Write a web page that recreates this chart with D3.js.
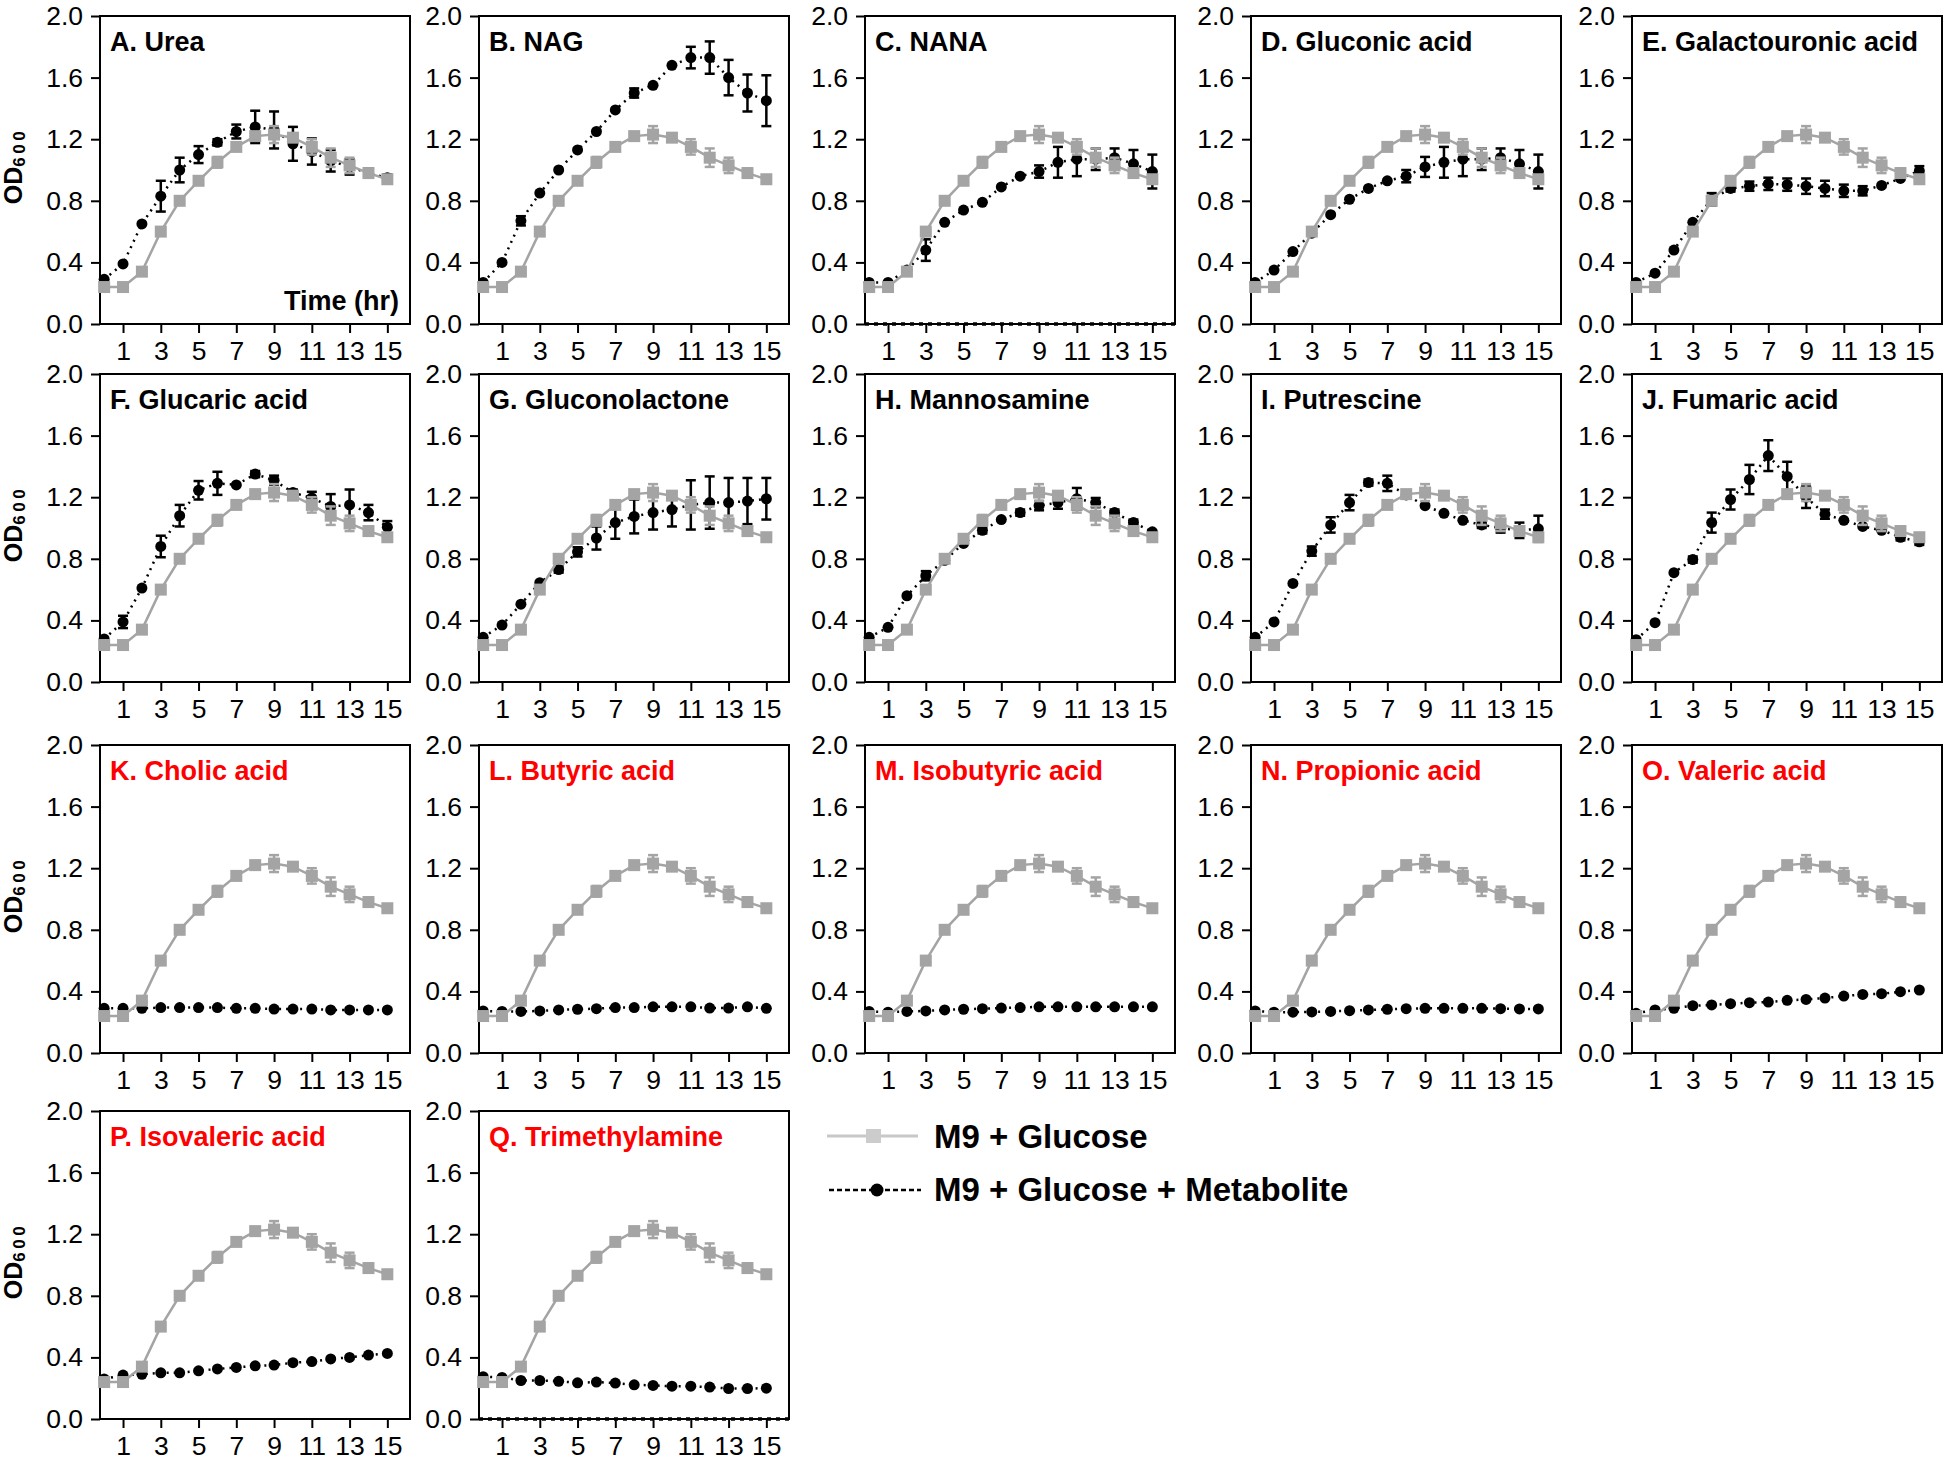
<!DOCTYPE html>
<html>
<head>
<meta charset="utf-8">
<script src="https://cdn.jsdelivr.net/npm/d3@7"></script>
<style>
  body { margin: 0; background: #fff; }
  text { font-family: "Liberation Sans", Arial, sans-serif; }
</style>
</head>
<body>
<svg id="chart" width="1946" height="1461"></svg>
<script>
// ---------------- DATA ----------------
const times  = [0, 1, 2, 3, 4, 5, 6, 7, 8, 9, 10, 11, 12, 13, 14, 15];
const xTicks = [1, 3, 5, 7, 9, 11, 13, 15];
const yTicks = [0.0, 0.4, 0.8, 1.2, 1.6, 2.0];

const panelTitles = [
  "A. Urea", "B. NAG", "C. NANA", "D. Gluconic acid", "E. Galactouronic acid",
  "F. Glucaric acid", "G. Gluconolactone", "H. Mannosamine", "I. Putrescine", "J. Fumaric acid",
  "K. Cholic acid", "L. Butyric acid", "M. Isobutyric acid", "N. Propionic acid", "O. Valeric acid",
  "P. Isovaleric acid", "Q. Trimethylamine"
];
const inhibitoryPanels = ["K", "L", "M", "N", "O", "P", "Q"];
const zeroBaselinePanels = ["C", "Q"];

// M9 + Glucose (control), same in every panel
const controlMean = [0.24, 0.24, 0.34, 0.60, 0.80, 0.93, 1.05, 1.15, 1.22, 1.23, 1.21, 1.15, 1.08, 1.03, 0.98, 0.94];
const controlErr  = [0.01, 0.01, 0.01, 0.01, 0.025, 0.01, 0.035, 0.01, 0.01, 0.055, 0.01, 0.05, 0.06, 0.05, 0.03, 0.025];

// M9 + Glucose + Metabolite
const ureaMean = [0.29, 0.39, 0.65, 0.83, 1.00, 1.10, 1.18, 1.25, 1.28, 1.26, 1.17, 1.12, 1.06, 1.02, 0.98, 0.95];
const ureaErr  = [0.01, 0.01, 0.01, 0.10, 0.08, 0.055, 0.02, 0.045, 0.105, 0.12, 0.11, 0.085, 0.07, 0.05, 0.03, 0.02];
const nagMean  = [0.27, 0.40, 0.67, 0.85, 1.00, 1.13, 1.25, 1.39, 1.50, 1.55, 1.68, 1.73, 1.73, 1.60, 1.50, 1.45];
const nagErr   = [0.00, 0.01, 0.03, 0.01, 0.01, 0.01, 0.01, 0.01, 0.03, 0.01, 0.01, 0.07, 0.105, 0.115, 0.12, 0.165];
const nanaMean = [0.27, 0.27, 0.35, 0.48, 0.66, 0.74, 0.79, 0.89, 0.96, 0.99, 1.05, 1.07, 1.07, 1.08, 1.04, 0.99];
const nanaErr  = [0.00, 0.00, 0.01, 0.07, 0.01, 0.01, 0.01, 0.01, 0.01, 0.04, 0.10, 0.11, 0.07, 0.06, 0.09, 0.11];
const gluconicMean = [0.27, 0.35, 0.47, 0.59, 0.71, 0.81, 0.88, 0.93, 0.96, 1.02, 1.05, 1.07, 1.07, 1.08, 1.04, 0.99];
const gluconicErr  = [0.00, 0.01, 0.01, 0.01, 0.01, 0.01, 0.01, 0.01, 0.04, 0.065, 0.10, 0.11, 0.07, 0.06, 0.09, 0.11];
const galactMean = [0.27, 0.33, 0.48, 0.66, 0.81, 0.88, 0.895, 0.91, 0.905, 0.895, 0.88, 0.865, 0.865, 0.90, 0.945, 0.995];
const galactErr  = [0.00, 0.01, 0.01, 0.01, 0.04, 0.02, 0.03, 0.04, 0.04, 0.05, 0.05, 0.04, 0.03, 0.01, 0.01, 0.03];
const glucaricMean = [0.28, 0.39, 0.61, 0.88, 1.08, 1.245, 1.29, 1.28, 1.35, 1.31, 1.23, 1.195, 1.14, 1.15, 1.10, 1.005];
const glucaricErr  = [0.01, 0.04, 0.01, 0.07, 0.07, 0.06, 0.075, 0.01, 0.02, 0.03, 0.02, 0.04, 0.08, 0.10, 0.05, 0.04];
const lactoneMean = [0.29, 0.37, 0.505, 0.645, 0.73, 0.845, 0.935, 1.035, 1.075, 1.10, 1.12, 1.15, 1.165, 1.165, 1.175, 1.19];
const lactoneErr  = [0.00, 0.01, 0.01, 0.01, 0.02, 0.03, 0.075, 0.105, 0.11, 0.11, 0.11, 0.16, 0.17, 0.16, 0.15, 0.135];
const mannoMean = [0.29, 0.355, 0.56, 0.69, 0.79, 0.90, 0.985, 1.055, 1.10, 1.145, 1.165, 1.19, 1.165, 1.10, 1.035, 0.975];
const mannoErr  = [0.00, 0.01, 0.01, 0.03, 0.01, 0.01, 0.02, 0.01, 0.02, 0.03, 0.04, 0.07, 0.03, 0.02, 0.02, 0.01];
const putrescMean = [0.29, 0.39, 0.64, 0.85, 1.02, 1.165, 1.295, 1.29, 1.215, 1.145, 1.095, 1.05, 1.02, 1.00, 0.985, 0.995];
const putrescErr  = [0.00, 0.01, 0.01, 0.03, 0.05, 0.05, 0.02, 0.05, 0.01, 0.01, 0.01, 0.01, 0.02, 0.03, 0.05, 0.085];
const fumaricMean = [0.275, 0.385, 0.71, 0.795, 1.035, 1.185, 1.315, 1.47, 1.335, 1.20, 1.09, 1.05, 1.01, 0.985, 0.94, 0.91];
const fumaricErr  = [0.00, 0.01, 0.01, 0.02, 0.065, 0.065, 0.095, 0.10, 0.095, 0.07, 0.03, 0.01, 0.01, 0.01, 0.02, 0.02];
const cholicMean = [0.29, 0.29, 0.29, 0.295, 0.295, 0.295, 0.295, 0.29, 0.29, 0.285, 0.285, 0.285, 0.28, 0.28, 0.28, 0.28];
const butyricMean = [0.273, 0.27, 0.27, 0.273, 0.28, 0.284, 0.288, 0.295, 0.295, 0.30, 0.30, 0.30, 0.292, 0.292, 0.30, 0.29];
const isobutyricMean = [0.27, 0.265, 0.27, 0.273, 0.28, 0.284, 0.288, 0.292, 0.295, 0.30, 0.30, 0.30, 0.30, 0.30, 0.30, 0.30];
const propionicMean = [0.273, 0.265, 0.265, 0.267, 0.27, 0.275, 0.28, 0.284, 0.288, 0.29, 0.29, 0.29, 0.29, 0.288, 0.286, 0.286];
const valericMean = [0.258, 0.28, 0.29, 0.307, 0.312, 0.32, 0.327, 0.331, 0.342, 0.348, 0.357, 0.37, 0.38, 0.385, 0.398, 0.409];
const isovalericMean = [0.26, 0.285, 0.29, 0.30, 0.30, 0.313, 0.325, 0.335, 0.345, 0.35, 0.366, 0.373, 0.39, 0.40, 0.415, 0.426];
const tmaMean = [0.275, 0.27, 0.25, 0.25, 0.245, 0.235, 0.24, 0.233, 0.222, 0.218, 0.213, 0.213, 0.207, 0.198, 0.198, 0.20];
const smallErr = [0, 0, 0, 0, 0, 0, 0, 0, 0, 0, 0, 0, 0, 0, 0, 0];

const metaboliteMeans = [ureaMean, nagMean, nanaMean, gluconicMean, galactMean,
  glucaricMean, lactoneMean, mannoMean, putrescMean, fumaricMean,
  cholicMean, butyricMean, isobutyricMean, propionicMean, valericMean,
  isovalericMean, tmaMean];
const metaboliteErrs = [ureaErr, nagErr, nanaErr, gluconicErr, galactErr,
  glucaricErr, lactoneErr, mannoErr, putrescErr, fumaricErr,
  smallErr, smallErr, smallErr, smallErr, smallErr, smallErr, smallErr];

const legendLabels = ["M9 + Glucose", "M9 + Glucose + Metabolite"];

// ---------------- LAYOUT ----------------
const colLeft = [100, 479, 865, 1251, 1632];
const rowTop  = [16, 374, 745, 1111];
const W = 310, H = 308;
const GRAY = "#a4a4a4";

const svg = d3.select("#chart");
svg.append("rect").attr("width", 1946).attr("height", 1461).attr("fill", "#fff");

const x = d3.scaleLinear().domain([-0.22, 16.2]).range([0, W]);
const y = d3.scaleLinear().domain([0, 2]).range([H, 0]);

function errorBars(g, mean, err, color) {
  const data = times.map((t, i) => ({t, v: mean[i], e: err[i]})).filter(d => d.e > 0.012);
  const eb = g.append("g").attr("stroke", color).attr("stroke-width", 2.5).attr("fill", "none");
  eb.selectAll("line.v").data(data).join("line")
    .attr("x1", d => x(d.t)).attr("x2", d => x(d.t))
    .attr("y1", d => y(d.v - d.e)).attr("y2", d => y(d.v + d.e));
  eb.selectAll("line.top").data(data).join("line")
    .attr("x1", d => x(d.t) - 5).attr("x2", d => x(d.t) + 5)
    .attr("y1", d => y(d.v + d.e)).attr("y2", d => y(d.v + d.e));
  eb.selectAll("line.bot").data(data).join("line")
    .attr("x1", d => x(d.t) - 5).attr("x2", d => x(d.t) + 5)
    .attr("y1", d => y(d.v - d.e)).attr("y2", d => y(d.v - d.e));
}

const line = d3.line().x((d, i) => x(times[i])).y(d => y(d));

panelTitles.forEach((title, i) => {
  const col = i % 5, row = Math.floor(i / 5);
  const g = svg.append("g").attr("transform", `translate(${colLeft[col]},${rowTop[row]})`);
  const letter = title.charAt(0);

  // axes
  const ya = g.append("g").call(d3.axisLeft(y).tickValues(yTicks).tickFormat(d3.format(".1f")).tickSize(9).tickPadding(8));
  const xa = g.append("g").attr("transform", `translate(0,${H})`)
    .call(d3.axisBottom(x).tickValues(xTicks).tickFormat(d3.format("d")).tickSize(9).tickPadding(8));
  [ya, xa].forEach(a => {
    a.select(".domain").remove();
    a.selectAll(".tick line").attr("stroke", "#000").attr("stroke-width", 2);
    a.selectAll(".tick text").attr("font-size", 26.5).attr("fill", "#000")
      .style("font-family", '"Liberation Sans", Arial, sans-serif');
  });

  // frame
  g.append("rect").attr("width", W).attr("height", H)
    .attr("fill", "none").attr("stroke", "#000").attr("stroke-width", 2);

  // zero baseline dashed series
  if (zeroBaselinePanels.includes(letter)) {
    g.append("line").attr("x1", 0).attr("x2", W).attr("y1", y(0)).attr("y2", y(0))
      .attr("stroke", "#000").attr("stroke-width", 3.5).attr("stroke-dasharray", "4,5");
  }

  // metabolite series (black, dotted)
  const mm = metaboliteMeans[i], me = metaboliteErrs[i];
  errorBars(g, mm, me, "#000");
  g.append("path").datum(mm).attr("d", line).attr("fill", "none")
    .attr("stroke", "#000").attr("stroke-width", 2.5).attr("stroke-dasharray", "2,5");
  g.append("g").selectAll("circle").data(mm).join("circle")
    .attr("cx", (d, k) => x(times[k])).attr("cy", d => y(d)).attr("r", 5.5).attr("fill", "#000");

  // control series (gray, solid, squares)
  g.append("path").datum(controlMean).attr("d", line).attr("fill", "none")
    .attr("stroke", GRAY).attr("stroke-width", 2.5);
  errorBars(g, controlMean, controlErr, GRAY);
  g.append("g").selectAll("rect").data(controlMean).join("rect")
    .attr("x", (d, k) => x(times[k]) - 6).attr("y", d => y(d) - 6)
    .attr("width", 12).attr("height", 12).attr("fill", GRAY);

  // panel title
  g.append("text").attr("x", 10).attr("y", 35).attr("font-size", 27).attr("font-weight", "bold")
    .attr("fill", inhibitoryPanels.includes(letter) ? "#ff0000" : "#000").text(title);

  // y axis label
  if (col === 0) {
    const t = g.append("text").attr("transform", `translate(-78,${H / 2 - 4}) rotate(-90)`)
      .attr("text-anchor", "middle").attr("font-size", 25).attr("font-weight", "bold").attr("fill", "#000");
    t.append("tspan").text("OD");
    t.append("tspan").attr("font-size", 17).attr("dy", 3).attr("letter-spacing", 3.5).text("600");
  }
  // x axis label (only first panel)
  if (i === 0) {
    g.append("text").attr("x", W - 11).attr("y", H - 14).attr("text-anchor", "end")
      .attr("font-size", 27).attr("font-weight", "bold").attr("fill", "#000").text("Time (hr)");
  }
});

// ---------------- LEGEND ----------------
const lg = svg.append("g");
lg.append("line").attr("x1", 827).attr("x2", 918).attr("y1", 1136).attr("y2", 1136)
  .attr("stroke", "#c8c8c8").attr("stroke-width", 3);
lg.append("rect").attr("x", 866).attr("y", 1129).attr("width", 15).attr("height", 14).attr("fill", "#cccccc");
lg.append("text").attr("x", 934).attr("y", 1148).attr("font-size", 33).attr("font-weight", "bold")
  .text(legendLabels[0]);
lg.append("line").attr("x1", 829).attr("x2", 921).attr("y1", 1190).attr("y2", 1190)
  .attr("stroke", "#000").attr("stroke-width", 2.5).attr("stroke-dasharray", "5,3");
lg.append("circle").attr("cx", 877).attr("cy", 1190).attr("r", 6.5).attr("fill", "#000");
lg.append("text").attr("x", 934).attr("y", 1201).attr("font-size", 33).attr("font-weight", "bold")
  .text(legendLabels[1]);
</script>
</body>
</html>
